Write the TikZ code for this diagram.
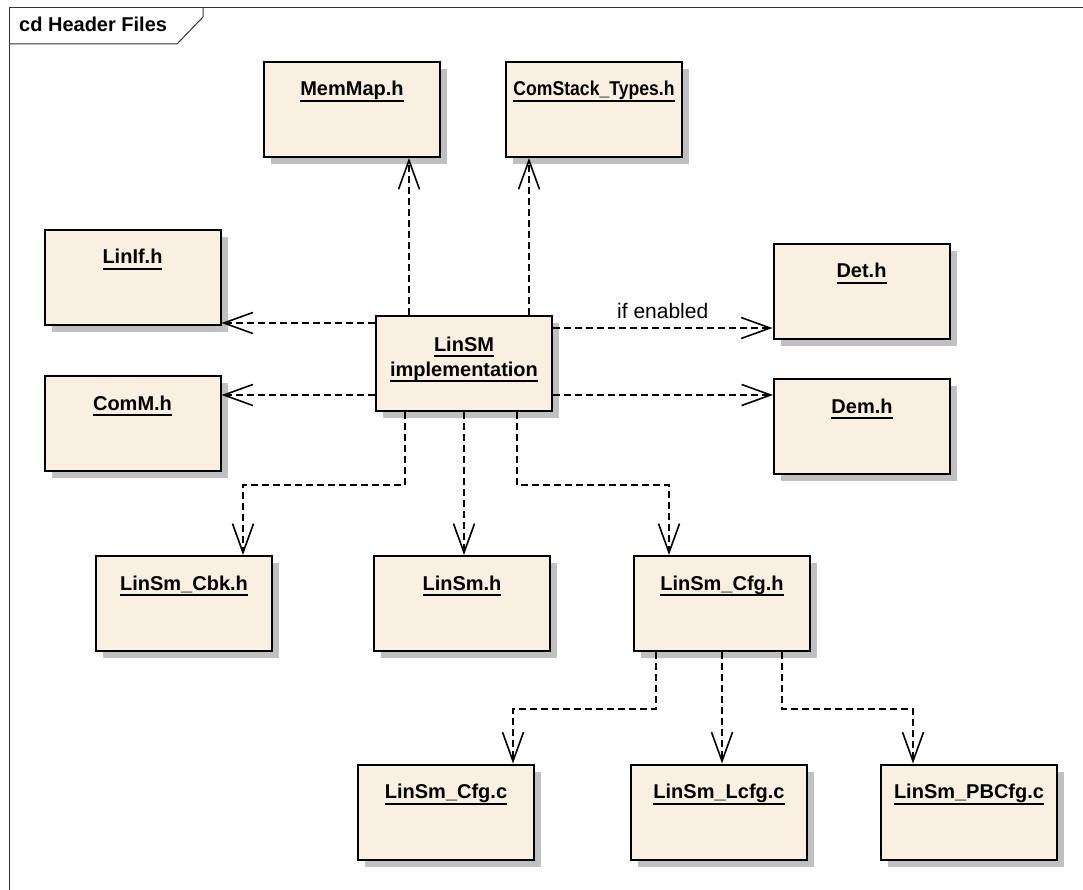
\documentclass[tikz,border=0pt]{standalone}
\usepackage{fontspec}
\usepackage{graphicx}
\setmainfont{Liberation Sans}
\usetikzlibrary{arrows.meta}
\usetikzlibrary{shadows}
\definecolor{filebg}{RGB}{250,240,226}
\definecolor{shadowgray}{RGB}{192,192,192}
\newcommand\ulname[1]{\setbox0\hbox{#1}\rlap{\usebox0}\rule[-6pt]{\wd0}{1.8pt}}
\tikzset{hfile/.style={draw, line width=2pt, fill=filebg, minimum width=176pt, minimum height=95pt, inner sep=0pt,
    drop shadow={shadow xshift=7pt, shadow yshift=-7pt, fill=shadowgray, opacity=1}}}
\tikzset{ttl/.style={anchor=base, inner sep=0pt, font=\fontsize{20}{24}\selectfont\bfseries}}
\tikzset{titled/.style={hfile, label={[ttl,yshift=-35pt]north:\ulname{#1}}}}
\tikzset{dep/.style={line width=1.3pt, dash pattern=on 7pt off 4pt, -{Straight Barb[length=29pt,width=21pt,line width=1.6pt]}}}
\tikzset{lbl/.style={anchor=base, yshift=9pt, inner sep=0pt, font=\fontsize{21}{25}\selectfont}}
\tikzset{frm/.style={line width=1pt, black!80}}

\begin{document}
\begin{tikzpicture}[x=1pt,y=-1pt]
      \useasboundingbox (0,0) rectangle (1083,890);
      % frame
      \draw[frm] (9,890) -- (9,8) -- (1083,8);
      \draw[frm] (9,44) -- (177,44) -- (203,17) -- (203,8);
      \node[ttl, anchor=base west] (hdr) at (19,32) {cd Header Files};

      % header files
      \node[titled={MemMap.h}] (memmap) at (352,109.5) {};
      \node[titled={\scalebox{0.88}[1]{ComStack\_Types.h}}] (comstack) at (594,109.5) {};
      \node[titled={LinIf.h}] (linif) at (132.5,277.5) {};
      \node[titled={Det.h}] (det) at (861.5,291.5) {};
      \node[titled={ComM.h}] (comm) at (132.5,423.5) {};
      \node[titled={Dem.h}] (dem) at (862,426.5) {};
      \node[hfile, label={[ttl,yshift=-36pt]north:\ulname{LinSM}},
            label={[ttl,yshift=-61pt]north:\ulname{implementation}}] (impl) at (464,363.5) {};
      \node[titled={LinSm\_Cbk.h}] (cbk) at (184,603.5) {};
      \node[titled={LinSm.h}] (linsm) at (462,603.5) {};
      \node[titled={LinSm\_Cfg.h}] (cfgh) at (722,603.5) {};
      \node[titled={LinSm\_Cfg.c}] (cfgc) at (446,812) {};
      \node[titled={LinSm\_Lcfg.c}] (lcfgc) at (719,812) {};
      \node[titled={LinSm\_PBCfg.c}] (pbcfgc) at (969,812) {};

      % dependencies
      \draw[dep] ([xshift=-55pt]impl.north) -- ([xshift=-55pt]impl.north |- memmap.south);
      \draw[dep] ([xshift=65pt]impl.north) -- ([xshift=65pt]impl.north |- comstack.south);
      \draw[dep] ([yshift=40.5pt]impl.west) -- ([yshift=40.5pt]impl.west -| linif.east);
      \draw[dep] ([yshift=-31.5pt]impl.west) -- ([yshift=-31.5pt]impl.west -| comm.east);
      \draw[dep] ([yshift=35.5pt]impl.east) -- node[lbl] (cond) {if enabled} ([yshift=35.5pt]impl.east -| det.west);
      \draw[dep] ([yshift=-31.5pt]impl.east) -- ([yshift=-31.5pt]impl.east -| dem.west);
      \draw[dep] ([xshift=-59pt]impl.south) -- ++(0,73) -| ([xshift=59pt]cbk.north);
      \draw[dep] (impl.south) -- (impl.south |- linsm.north);
      \draw[dep] ([xshift=53pt]impl.south) -- ++(0,73) -| ([xshift=-53pt]cfgh.north);
      \draw[dep] ([xshift=-66pt]cfgh.south) -- ++(0,57) -| ([xshift=67pt]cfgc.north);
      \draw[dep] (cfgh.south) -- (cfgh.south |- lcfgc.north);
      \draw[dep] ([xshift=60pt]cfgh.south) -- ++(0,57) -| ([xshift=-56pt]pbcfgc.north);
\end{tikzpicture}
\end{document}
